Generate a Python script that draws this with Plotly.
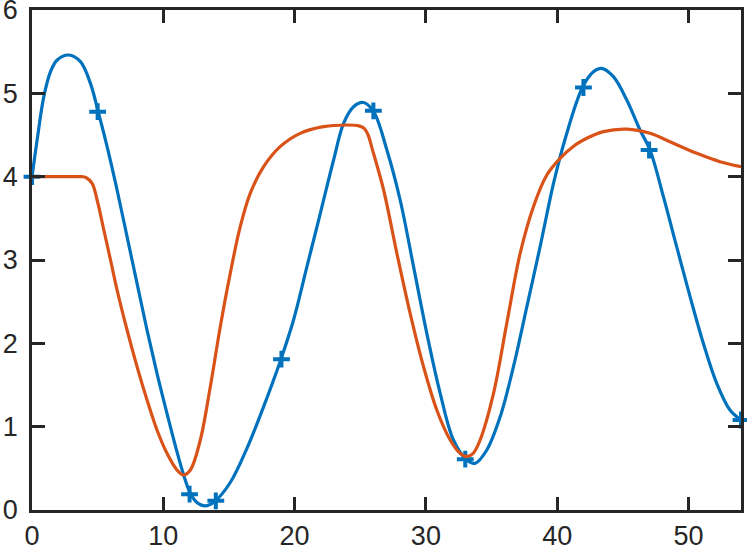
import plotly.graph_objects as go

BLUE = "#0072BD"
ORANGE = "#D95319"
AXIS = "#262626"

# sample points (the '+' markers)
pts_x = [0, 5, 12, 14, 19, 26, 33, 42, 47, 54]
pts_y = [4.0, 4.78, 0.19, 0.11, 1.81, 4.79, 0.61, 5.07, 4.32, 1.08]

# blue smooth curve
blue_x = [0, 0.39, 0.9, 1.41, 1.92, 2.8, 3.69, 4.45, 5.04, 5.72, 6.48, 7.24,
          8.0, 8.76, 9.52, 10.28, 11.04, 11.55, 12.0, 12.5, 13.2, 13.89, 15.1,
          16.37, 17.64, 18.96, 19.92, 20.94, 21.96, 22.97, 23.73, 24.49, 25.25,
          26.02, 27.03, 28.04, 29.06, 30.07, 31.09, 32.1, 33.12, 33.75, 34.64,
          35.66, 36.67, 37.69, 38.7, 39.72, 40.6, 41.92, 42.76, 43.39, 44.28,
          45.3, 46.31, 47.07, 48.09, 49.1, 50.12, 51.13, 52.15, 53.16, 54.0]
blue_y = [4.0, 4.44, 4.96, 5.26, 5.40, 5.46, 5.38, 5.12, 4.78, 4.36, 3.84, 3.28,
          2.72, 2.16, 1.64, 1.16, 0.70, 0.42, 0.22, 0.10, 0.05, 0.10, 0.33,
          0.74, 1.24, 1.81, 2.28, 2.92, 3.56, 4.2, 4.64, 4.84, 4.89,
          4.78, 4.32, 3.72, 2.92, 2.12, 1.40, 0.84, 0.60, 0.56, 0.72,
          1.12, 1.72, 2.44, 3.16, 3.92, 4.45, 5.07, 5.26, 5.30, 5.20,
          4.92, 4.56, 4.32, 3.76, 3.16, 2.56, 2.0, 1.52, 1.20, 1.08]

# orange curve
orange_x = [0, 1.5, 3.0, 3.8, 4.1, 4.58, 4.96, 5.47, 5.98, 6.48, 7.24, 8.0, 8.76,
            9.52, 10.28, 11.04, 11.55, 12.06, 12.82, 13.58, 14.34, 15.1, 15.86,
            16.62, 17.64, 18.9, 20.42, 22.2, 23.98, 24.9, 25.3, 25.6, 25.9,
            26.78, 27.79, 28.8, 29.82, 30.83, 31.85, 32.6, 33.12, 33.6, 34.13,
            35.15, 36.16, 37.18, 38.19, 39.21, 40.22, 41.2, 42.0, 43.52, 45.3,
            47.07, 48.85, 50.63, 52.4, 54.0]
orange_y = [4.0, 4.0, 4.0, 4.0, 3.99, 3.92, 3.72, 3.36, 3.0, 2.64, 2.16, 1.72,
            1.32, 0.96, 0.68, 0.48, 0.42, 0.48, 0.84, 1.48, 2.2, 2.84, 3.4,
            3.80, 4.12, 4.36, 4.52, 4.6, 4.62, 4.61, 4.58, 4.5, 4.34,
            3.84, 3.08, 2.36, 1.72, 1.2, 0.84, 0.68, 0.64, 0.68, 0.84,
            1.40, 2.24, 3.08, 3.64, 4.02, 4.22, 4.36, 4.44, 4.54, 4.57,
            4.52, 4.40, 4.28, 4.18, 4.12]

fig = go.Figure()

fig.add_trace(go.Scatter(
    x=pts_x, y=pts_y, mode="markers",
    marker=dict(symbol="cross-thin", size=12, color=BLUE,
                line=dict(color=BLUE, width=4)),
    cliponaxis=False, showlegend=False,
))
fig.add_trace(go.Scatter(
    x=blue_x, y=blue_y, mode="lines",
    line=dict(color=BLUE, width=3.2, shape="spline", smoothing=1),
    showlegend=False,
))
fig.add_trace(go.Scatter(
    x=orange_x, y=orange_y, mode="lines",
    line=dict(color=ORANGE, width=3.2, shape="spline", smoothing=1),
    showlegend=False,
))

axis_style = dict(
    showgrid=False, zeroline=False, automargin=False,
    showline=True, linecolor=AXIS, linewidth=2.5, mirror="ticks",
    ticks="inside", ticklen=13, tickwidth=2.5, tickcolor=AXIS,
    ticklabeloverflow="allow",
    tickfont=dict(size=27, color=AXIS, family="Liberation Sans, Arial, sans-serif"),
)

fig.update_layout(
    width=747, height=556,
    paper_bgcolor="white", plot_bgcolor="white",
    margin=dict(l=32, r=6, t=10, b=46),
    xaxis=dict(range=[0, 54], tickvals=[0, 10, 20, 30, 40, 50], **axis_style),
    yaxis=dict(range=[0, 6], tickvals=[0, 1, 2, 3, 4, 5, 6],
               ticklabelstandoff=6, **axis_style),
)

# page has a default 8px body margin; drop it so the figure sits at the corner
fig.write_html("out.html", config={"displayModeBar": False},
               post_script="document.body.style.margin='0';")
